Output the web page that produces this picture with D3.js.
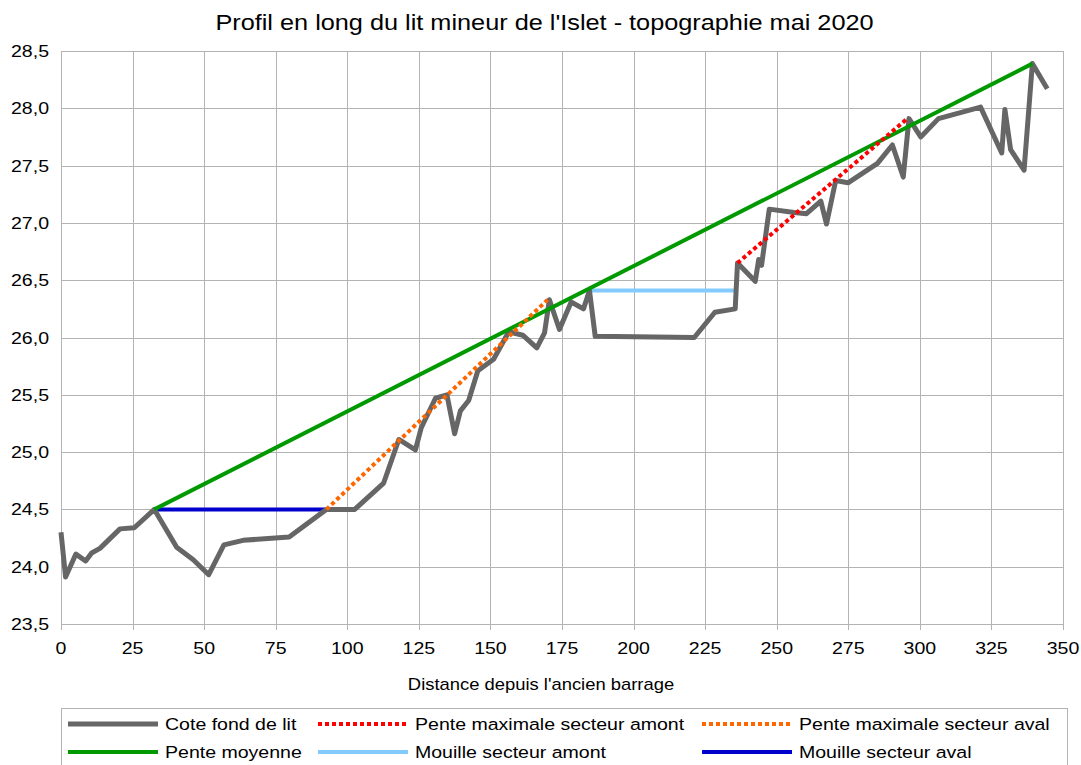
<!DOCTYPE html>
<html>
<head>
<meta charset="utf-8">
<script src="https://cdn.jsdelivr.net/npm/d3@7"></script>
<style>
  html, body { margin: 0; padding: 0; background: #fff; }
  svg { display: block; font-family: "Liberation Sans", Arial, sans-serif; }
</style>
</head>
<body>
<div id="chart"></div>
<script>
    "use strict";

    // Cote fond de lit (profil relevé en mai 2020)
    const distance = [0, 1.6, 5.2, 8.6, 10.7, 13.6, 20.6, 25.6, 32.6, 40.4, 46.2, 51.6, 56.9, 63.6, 79.7, 92.7,
        102.6, 112.7, 118.0, 123.8, 125.8, 130.8, 134.8, 137.5, 139.5, 142.4, 145.6, 151.1, 156.4, 161.3,
        166.2, 168.9, 170.6, 174.1, 178.2, 182.5, 184.6, 186.6, 221.2, 228.4, 235.5, 236.3, 242.5, 243.7,
        244.7, 247.4, 256.1, 260.4, 265.4, 267.4, 270.6, 274.9, 285.2, 290.4, 294.2, 296.2, 300.3, 306.5,
        321.2, 328.6, 329.7, 331.7, 336.4, 339.3, 344.5];
    const cote = [24.30, 23.91, 24.11, 24.05, 24.12, 24.16, 24.33, 24.34, 24.50, 24.17, 24.06, 23.93, 24.19,
        24.23, 24.26, 24.50, 24.50, 24.73, 25.11, 25.02, 25.21, 25.47, 25.50, 25.16, 25.36, 25.45, 25.71,
        25.81, 26.05, 26.02, 25.91, 26.04, 26.33, 26.07, 26.31, 26.25, 26.41, 26.01, 26.00, 26.22, 26.25,
        26.65, 26.49, 26.68, 26.63, 27.12, 27.09, 27.08, 27.19, 26.99, 27.37, 27.35, 27.52, 27.68, 27.40,
        27.91, 27.75, 27.91, 28.01, 27.61, 27.99, 27.64, 27.46, 28.39, 28.17];

    // segments : [x0, y0, x1, y1]
    const penteMoyenne = [32.6, 24.50, 339.3, 28.39];
    const penteMaxAmont = [236.3, 26.65, 295.6, 27.91];
    const penteMaxAval = [92.7, 24.50, 170.0, 26.33];
    const mouilleAmont = [184.6, 26.41, 235.5, 26.41];
    const mouilleAval = [32.6, 24.50, 92.7, 24.50];

    const xTicks = d3.range(0, 351, 25);
    const yTicks = d3.range(23.5, 28.51, 0.5);

    const title = "Profil en long du lit mineur de l'Islet - topographie mai 2020";
    const xTitle = "Distance depuis l'ancien barrage";

    const W = 1081, H = 765,
        margin = {left: 61, top: 51, right: 18, bottom: 141},
        sx = 1.15;   // le rendu d'origine est étiré horizontalement

    const svg = d3.select("#chart").append("svg").attr("width", W).attr("height", H);

    const x = d3.scaleLinear().domain([0, 350]).range([margin.left, W - margin.right]),
        y = d3.scaleLinear().domain([23.5, 28.5]).range([H - margin.bottom, margin.top]);

    let addText = (g, px, py, str, size, anchor) => {
        return g.append("text")
            .attr("transform", `translate(${px},${py}) scale(${sx},1)`)
            .attr("text-anchor", anchor || "middle")
            .attr("font-size", size)
            .attr("fill", "#000")
            .text(str);
    };

    // grille
    const grid = svg.append("g").attr("stroke", "#b3b3b3").attr("stroke-width", 1).attr("shape-rendering", "crispEdges");
    grid.selectAll("line.h").data(yTicks).enter().append("line")
        .attr("x1", x(0)).attr("x2", x(350))
        .attr("y1", d => Math.round(y(d)) + 0.5).attr("y2", d => Math.round(y(d)) + 0.5);
    grid.selectAll("line.v").data(xTicks).enter().append("line")
        .attr("x1", d => Math.round(x(d)) + 0.5).attr("x2", d => Math.round(x(d)) + 0.5)
        .attr("y1", y(28.5)).attr("y2", y(23.5) + 6);

    // étiquettes des axes
    const fmt = d => d3.format(".1f")(d).replace(".", ",");
    const yLab = svg.append("g");
    yTicks.forEach(d => addText(yLab, 49, y(d) + 6, fmt(d), 17, "end"));
    const xLab = svg.append("g");
    xTicks.forEach(d => addText(xLab, x(d), 654, String(d), 17, "middle"));

    addText(svg, W / 2 + 4, 30, title, 22, "middle");
    addText(svg, 541, 690, xTitle, 16, "middle");

    // courbes
    const line = d3.line().x(d => x(d[0])).y(d => y(d[1]));
    const profil = distance.map((d, i) => [d, cote[i]]);
    const seg = s => [[s[0], s[1]], [s[2], s[3]]];

    const series = [
        {name: "Mouille secteur aval", data: seg(mouilleAval), color: "#0000cc", width: 4, dash: null},
        {name: "Mouille secteur amont", data: seg(mouilleAmont), color: "#83caff", width: 4, dash: null},
        {name: "Cote fond de lit", data: profil, color: "#666666", width: 5, dash: null},
        {name: "Pente moyenne", data: seg(penteMoyenne), color: "#009900", width: 4, dash: null},
        {name: "Pente maximale secteur amont", data: seg(penteMaxAmont), color: "#ff0000", width: 4, dash: "4,3"},
        {name: "Pente maximale secteur aval", data: seg(penteMaxAval), color: "#ff6600", width: 4, dash: "4,3"}
    ];

    svg.append("g").selectAll("path").data(series).enter().append("path")
        .attr("d", d => line(d.data))
        .attr("fill", "none")
        .attr("stroke", d => d.color)
        .attr("stroke-width", d => d.width)
        .attr("stroke-dasharray", d => d.dash)
        .attr("stroke-linejoin", "round");

    // légende
    const legendOrder = ["Cote fond de lit", "Pente maximale secteur amont", "Pente maximale secteur aval",
        "Pente moyenne", "Mouille secteur amont", "Mouille secteur aval"];
    const colX = [68, 318, 702],
        rowY = [724, 752];
    const leg = svg.append("g");
    leg.append("rect")
        .attr("x", 61.5).attr("y", 708.5).attr("width", 1006).attr("height", 80)
        .attr("fill", "none").attr("stroke", "#b3b3b3");
    legendOrder.forEach((name, i) => {
        let s = series.find(d => d.name === name),
            lx = colX[i % 3], ly = rowY[Math.floor(i / 3)];
        leg.append("line")
            .attr("x1", lx).attr("x2", lx + 90).attr("y1", ly).attr("y2", ly)
            .attr("stroke", s.color).attr("stroke-width", s.width)
            .attr("stroke-dasharray", s.dash);
        addText(leg, lx + 97, ly + 6, name, 17, "start");
    });
</script>
</body>
</html>
